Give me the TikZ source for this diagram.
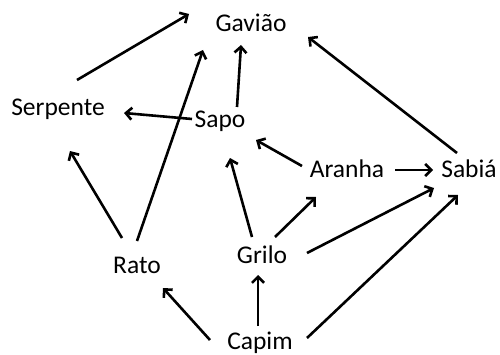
\documentclass[tikz,border=0pt]{standalone}
\usepackage{fontspec}
\setmainfont{Carlito}
\usetikzlibrary{arrows.meta}
\begin{document}
\begin{tikzpicture}[x=1pt,y=1pt,
  lbl/.style={anchor=base,inner sep=0pt,font=\fontsize{25.5}{30}\selectfont},
  arr/.style={line width=2.6pt,-{Straight Barb[length=6pt,width=12pt]}}]
\useasboundingbox (0,0) rectangle (500,354);
\node[lbl] (gav) at (251,322) {Gavião};
\node[lbl] (ser) at (58,239) {Serpente};
\node[lbl] (sapo) at (220,226) {Sapo};
\node[lbl] (ara) at (347,177) {Aranha};
\node[lbl] (sab) at (469,177) {Sabiá};
\node[lbl] (rato) at (137,81) {Rato};
\node[lbl] (grilo) at (262,91) {Grilo};
\node[lbl] (capim) at (260,5) {Capim};
\draw[arr] ([shift={(19,35)}]ser.base) -- ([shift={(-62,18)}]gav.base);
\draw[arr] ([shift={(0,32)}]rato.base) -- ([shift={(-48,-18)}]gav.base);
\draw[arr] ([shift={(17,21)}]sapo.base) -- ([shift={(-10,-13)}]gav.base);
\draw[arr] ([shift={(-28,9)}]sapo.base) -- ([shift={(66,2)}]ser.base);
\draw[arr] ([shift={(-15,35)}]rato.base) -- ([shift={(12,-36)}]ser.base);
\draw[arr] ([shift={(-12,24)}]sab.base) -- ([shift={(57,-5)}]gav.base);
\draw[arr] ([shift={(-45,11)}]ara.base) -- ([shift={(36,-12)}]sapo.base);
\draw[arr] ([shift={(48,7)}]ara.base) -- ([shift={(-36,7)}]sab.base);
\draw[arr] ([shift={(-10,26)}]grilo.base) -- ([shift={(10,-30)}]sapo.base);
\draw[arr] ([shift={(13,26)}]grilo.base) -- ([shift={(-31,-20)}]ara.base);
\draw[arr] ([shift={(45,10)}]grilo.base) -- ([shift={(-35,-11)}]sab.base);
\draw[arr] ([shift={(47,11)}]capim.base) -- ([shift={(-11,-18)}]sab.base);
\draw[arr] ([shift={(-2,23)}]capim.base) -- ([shift={(-4,-12)}]grilo.base);
\draw[arr] ([shift={(-50,9)}]capim.base) -- ([shift={(26,-15)}]rato.base);
\end{tikzpicture}
\end{document}
